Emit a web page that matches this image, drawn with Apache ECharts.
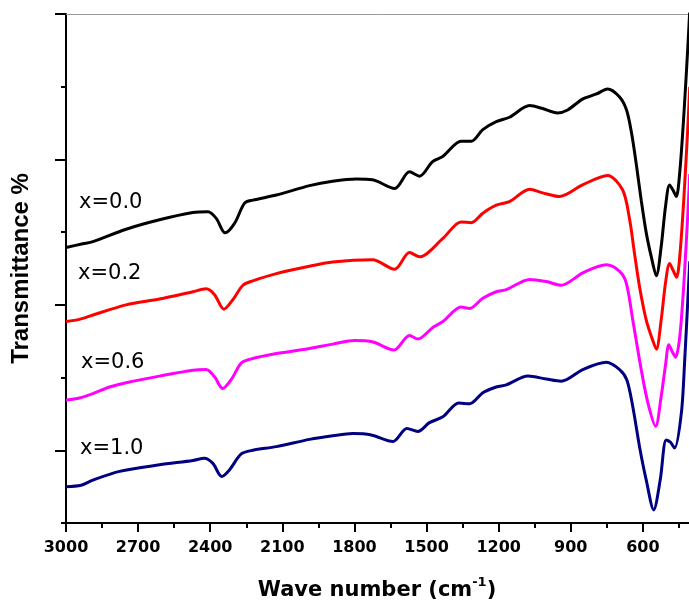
<!DOCTYPE html>
<html>
<head>
<meta charset="utf-8">
<script src="https://cdn.jsdelivr.net/npm/echarts@6/dist/echarts.min.js"></script>
<style>html,body{margin:0;padding:0;background:#fff}#c{width:689px;height:603px}</style>
</head>
<body>
<div id="c"></div>
<script>
// Wave numbers (cm-1) and transmittance values (arbitrary offset units)
const waveX00 = [3000,2930,2888,2750,2611,2472,2410,2375,2338,2299,2257,2223,2125,1987,1891,1792,1725,1633,1571,1529,1475,1433,1356,1314,1266,1210,1155,1071,1017,955,913,851,793,747,697,668,647,626,607,586,565,544,524,506,489,475,461,447,430,413,405];
const transX00 = [37.9,38.4,38.7,40.4,41.7,42.7,42.8,41.9,39.9,41.2,44.0,44.4,45.1,46.4,47.0,47.3,47.2,46.0,48.3,47.7,49.7,50.4,52.5,52.5,54.1,55.2,55.8,57.4,57.0,56.4,56.8,58.3,59.0,59.7,58.6,56.8,53.6,49.0,44.4,39.9,36.6,34.0,38.0,43.5,46.5,45.8,44.9,48.1,55.9,65.5,70.5];

const waveX02 = [3000,2944,2888,2750,2611,2472,2417,2382,2343,2306,2264,2223,2125,1987,1891,1725,1633,1571,1529,1433,1356,1314,1266,1210,1155,1071,1017,947,851,747,684,655,635,614,586,560,544,524,506,489,475,460,447,430,413,405];
const transX02 = [27.7,28.0,28.6,30.0,30.8,31.8,32.2,31.4,29.4,30.7,32.7,33.3,34.3,35.3,35.9,36.2,34.9,37.2,36.6,39.1,41.4,41.3,42.6,43.7,44.2,45.9,45.4,44.9,46.5,47.8,45.8,41.7,37.1,32.5,27.9,25.2,23.9,27.9,33.0,35.7,34.8,33.8,36.5,44.4,54.5,60.0];

const waveX06 = [3000,2944,2888,2819,2750,2611,2472,2417,2382,2348,2313,2271,2236,2125,1987,1890,1800,1723,1636,1571,1536,1474,1432,1356,1321,1266,1210,1168,1071,1002,940,850,752,697,669,642,607,579,547,524,506,492,477,464,447,430,413,405];
const transX06 = [16.9,17.2,17.8,18.7,19.3,20.2,21.0,21.1,20.1,18.5,19.7,22.0,22.5,23.3,24.0,24.6,25.1,24.9,23.8,25.8,25.3,26.9,27.7,29.7,29.5,30.9,31.8,32.1,33.5,33.2,32.7,34.4,35.5,34.6,33.0,27.9,21.1,16.5,13.3,17.4,21.7,24.5,23.5,22.8,25.5,32.7,42.6,48.0];

const waveX10 = [3000,2937,2888,2777,2611,2472,2424,2389,2352,2320,2271,2223,2125,1987,1890,1807,1730,1640,1582,1536,1488,1432,1366,1321,1266,1210,1168,1078,1002,940,850,752,697,667,642,614,586,555,528,503,485,468,440,426,413,405];
const transX10 = [5.0,5.2,5.9,7.1,8.0,8.6,8.9,8.2,6.4,7.3,9.5,10.0,10.5,11.5,12.0,12.3,12.1,11.2,13.0,12.6,13.8,14.6,16.5,16.4,17.9,18.7,19.0,20.2,19.8,19.5,21.1,22.1,21.1,19.7,16.0,10.5,5.9,1.8,5.9,11.4,11.1,10.3,15.1,22.4,30.7,36.0];

const seriesNames = ['x=0.0','x=0.2','x=0.6','x=1.0'];
const seriesColors = ['#000000','#ff0000','#ff00ff','#000080'];
const xTicks = [600,900,1200,1500,1800,2100,2400,2700,3000];

const waves = [waveX00, waveX02, waveX06, waveX10];
const trans = [transX00, transX02, transX06, transX10];

const chart = echarts.init(document.getElementById('c'), null, {renderer:'canvas'});
const labelPos = [[79,204],[78,275],[81,364],[80,450]];

const option = {
  animation: false,
  backgroundColor: '#fff',
  grid: { left: 66, top: 14, width: 649, height: 509, containLabel: false, outerBoundsMode: 'none' },
  xAxis: [{
    type: 'value', inverse: true, min: 300, max: 3000, interval: 300,
    axisLine: { show: true, onZero: false, lineStyle: { color: '#000', width: 2 } },
    axisTick: { show: true, inside: false, length: 9, lineStyle: { color: '#000', width: 2 } },
    minorTick: { show: true, splitNumber: 2, length: 5, lineStyle: { color: '#000', width: 2 } },
    splitLine: { show: false },
    axisLabel: { margin: 17, fontFamily: 'DejaVu Sans', fontWeight: 'bold', fontSize: 16, color: '#000',
      formatter: v => (xTicks.indexOf(v) >= 0 ? String(v) : '') },
    name: '{main|Wave number (cm}{sup|-1}{main|)}', nameLocation: 'middle', nameGap: 53,
    nameTextStyle: { fontFamily: 'DejaVu Sans', fontWeight: 'bold', fontSize: 21, color: '#000',
      padding: [0, 27, 0, 0],
      rich: {
        main: { fontFamily: 'DejaVu Sans', fontWeight: 'bold', fontSize: 21, color: '#000', lineHeight: 30, verticalAlign: 'middle' },
        sup: { fontFamily: 'DejaVu Sans', fontWeight: 'bold', fontSize: 13, color: '#000', lineHeight: 13, verticalAlign: 'top' }
      } }
  }, {
    type: 'value', inverse: true, min: 300, max: 3000, position: 'top',
    axisLine: { show: true, onZero: false, lineStyle: { color: '#999', width: 1 } },
    axisTick: { show: false }, axisLabel: { show: false }, splitLine: { show: false }
  }],
  yAxis: [{
    type: 'value', min: 0, max: 70, interval: 10,
    axisLine: { show: true, onZero: false, lineStyle: { color: '#000', width: 2 } },
    axisTick: { show: true, length: 5, lineStyle: { color: '#000', width: 2 } },
    axisLabel: { show: false }, splitLine: { show: false },
    name: 'Transmittance %', nameLocation: 'middle', nameGap: 33,
    nameTextStyle: { fontFamily: 'Liberation Sans', fontWeight: 'bold', fontSize: 24, color: '#000' }
  }, {
    type: 'value', min: 0, max: 70, position: 'left',
    axisLine: { show: false },
    axisTick: { show: true, length: 11, customValues: [10,30,50,70], lineStyle: { color: '#000', width: 2 } },
    axisLabel: { show: false }, splitLine: { show: false }
  }],
  series: seriesNames.map((n, i) => ({
    name: n, type: 'line', xAxisIndex: 0, yAxisIndex: 0,
    data: waves[i].map((w, k) => [w, trans[i][k]]),
    showSymbol: false, symbol: 'none', smooth: 0.3, clip: true,
    lineStyle: { color: seriesColors[i], width: 3 }, itemStyle: { color: seriesColors[i] }
  })),
  graphic: seriesNames.map((n, i) => ({
    type: 'text', left: labelPos[i][0], top: labelPos[i][1] - 12,
    style: { text: n, fontFamily: 'DejaVu Sans', fontSize: 21, fill: '#000' }
  }))
};
chart.setOption(option);
</script>
</body>
</html>
